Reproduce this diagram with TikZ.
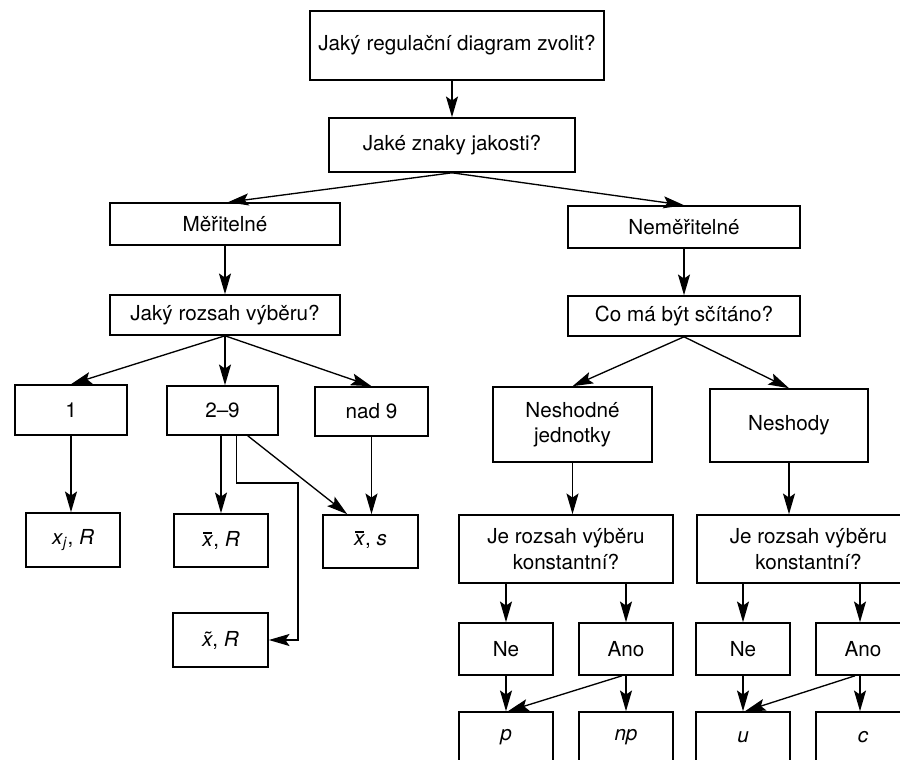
\documentclass[tikz,border=0pt]{standalone}
\usepackage{fontspec}
\setmainfont{TeX Gyre Heros}
\usetikzlibrary{calc,arrows.meta}
\tikzset{
  box/.style={draw, line width=1.2pt, inner sep=0pt, align=center,
    font=\fontsize{15.5}{19}\selectfont},
  arr/.style={line width=1pt, -{Stealth[length=15.5pt,width=9pt,inset=3pt]}}
}
\newcommand\bx[6]{%
  \pgfmathsetmacro\bxcx{(#2+#4)/2}%
  \pgfmathsetmacro\bxcy{(#3+#5)/2}%
  \pgfmathsetmacro\bxw{(#4-#2)*0.75}%
  \pgfmathsetmacro\bxh{(#5-#3)*0.75}%
  \node[box, minimum width=\bxw pt, minimum height=\bxh pt] (#1) at (\bxcx,\bxcy) {#6};}
\newcommand\xbar{\ooalign{\textit{x}\cr\hfil\raisebox{0.62em}{\rule{0.42em}{0.07em}}\hfil\cr}}
\newcommand\xtil{\textit{\~{x}}}
\begin{document}
\begin{tikzpicture}[x=0.75pt,y=-0.75pt]
\useasboundingbox (0,0) rectangle (900,760);
\clip (0,0) rectangle (900,760);
\fill[white] (0,0) rectangle (900,760);
% left part
\bx{top}{310}{11}{604}{80}{Jaký regulační diagram zvolit?}
\bx{znaky}{329}{118}{575}{172}{Jaké znaky jakosti?}
\bx{mer}{110}{203}{340}{245}{Měřitelné}
\bx{rozsah}{110}{295}{340}{335}{Jaký rozsah výběru?}
\bx{one}{15}{385}{127}{435}{1}
\bx{two}{167}{386}{278}{435}{2–9}
\bx{nad}{315}{387}{428}{436}{nad 9}
\bx{xjR}{26}{513}{120}{567}{\textit{x}\textsubscript{\textit{j}}, \textit{R}}
\bx{xbR}{174}{514}{268}{567}{\xbar, \textit{R}}
\bx{xbs}{323}{515}{418}{568}{\xbar, \textit{s}}
\bx{xtR}{173}{613}{268}{667}{\xtil, \textit{R}}
% right part
\bx{nemer}{568}{206}{800}{248}{Neměřitelné}
\bx{co}{568}{296}{800}{336}{Co má být sčítáno?}
\bx{nj}{493}{387}{652}{462}{Neshodné\\jednotky}
\bx{nsh}{710}{389}{868}{462}{Neshody}
\bx{jr1}{459}{515}{673}{583}{Je rozsah výběru\\konstantní?}
\bx{jr2}{697}{515}{920}{583}{Je rozsah výběru\\konstantní?}
\bx{ne1}{459}{623}{553}{675}{Ne}
\bx{ano1}{579}{623}{673}{675}{Ano}
\bx{ne2}{696}{623}{790}{675}{Ne}
\bx{ano2}{816}{623}{910}{675}{Ano}
\bx{p}{459}{712}{553}{762}{\textit{p}}
\bx{np}{579}{712}{673}{762}{\textit{np}}
\bx{u}{696}{712}{790}{762}{\textit{u}}
\bx{c}{816}{712}{910}{762}{\textit{c}}
% connectors left
\draw[arr] (znaky.north |- top.south) -- (znaky.north);
\draw[arr] (znaky.south) -- ($(mer.north)+(3,0)$);
\draw[arr] (znaky.south) -- (nemer.north);
\draw[arr] (mer.south) -- (rozsah.north);
\draw[arr] (rozsah.south) -- (one.north);
\draw[arr] (rozsah.south) -- (rozsah.south |- two.north);
\draw[arr] (rozsah.south) -- (nad.north);
\draw[arr] (one.south) -- (one.south |- xjR.north);
\draw[arr] (xbR.north |- two.south) -- (xbR.north);
\coordinate (bend) at (298,483);
\draw[arr] ($(two.south)+(14,0)$) |- (bend) |- (xtR.east);
\draw[arr] ($(two.south east)+(-31,0)$) -- ($(xbs.north west)+(25,0)$);
\draw[arr] (nad.south) -- (nad.south |- xbs.north);
% connectors right
\draw[arr] (nemer.south) -- (co.north);
\draw[arr] (co.south) -- (nj.north);
\draw[arr] (co.south) -- (nsh.north);
\draw[arr] (nj.south) -- (nj.south |- jr1.north);
\draw[arr] (nsh.south) -- (nsh.south |- jr2.north);
\draw[arr] (ne1.north |- jr1.south) -- (ne1.north);
\draw[arr] (ano1.north |- jr1.south) -- (ano1.north);
\draw[arr] (ne2.north |- jr2.south) -- (ne2.north);
\draw[arr] ($(ano2.north |- jr2.south)+(-3,0)$) -- ($(ano2.north)+(-3,0)$);
\draw[arr] (ne1.south) -- (p.north);
\draw[arr] (ano1.south) -- (np.north);
\draw[arr] ($(ano1.south)+(-4,0)$) -- ($(p.north)+(2,0)$);
\draw[arr] (ne2.south) -- (u.north);
\draw[arr] ($(ano2.south)+(-3,0)$) -- ($(c.north)+(-3,0)$);
\draw[arr] ($(ano2.south)+(-8,0)$) -- ($(u.north)+(2,0)$);
\end{tikzpicture}
\end{document}
